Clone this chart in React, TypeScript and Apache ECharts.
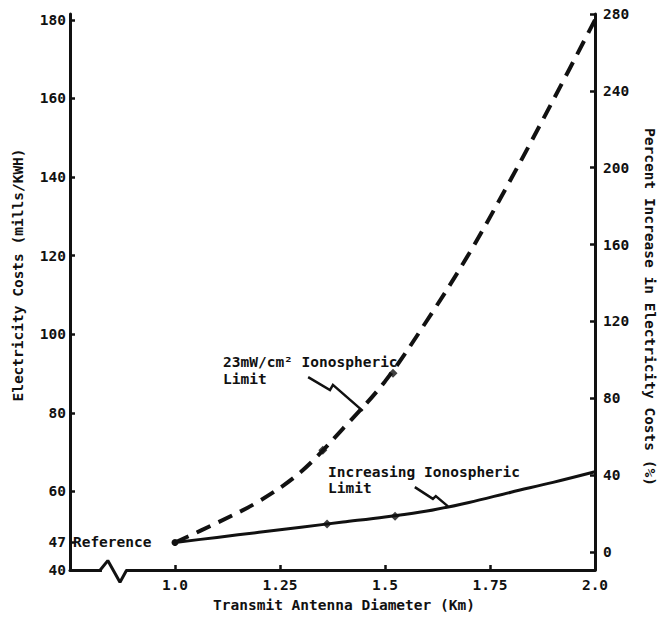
import React, { useEffect, useRef } from 'react';
import * as echarts from 'echarts';

// Transmit antenna diameter (km) sample positions
const diameters = [1.0, 1.1, 1.2, 1.3, 1.4, 1.5, 1.6, 1.7, 1.8, 1.9, 2.0];
// Electricity costs (mills/kWh), 23 mW/cm2 ionospheric limit (dashed)
const costsIonoLimit23 = [47, 52, 57.5, 65, 76, 88, 103.5, 120.5, 139.5, 159.5, 180];
// Electricity costs (mills/kWh), increasing ionospheric limit (solid)
const costsIncreasingLimit = [47, 48.3, 49.6, 50.9, 52.2, 53.5, 55.0, 57.2, 59.8, 62.3, 65];

// Plotted data markers
const dashedMarkers = [[1.352, 70.5], [1.519, 90.1]];
const solidMarkers = [[1.362, 51.7], [1.524, 53.7]];
const referencePoint = [1.0, 47];
const referenceLabel = 'Reference';

// Axis ticks
const leftTickValues = [47, 60, 80, 100, 120, 140, 160, 180];
const leftLabelValues = [40, 47, 60, 80, 100, 120, 140, 160, 180];
const rightTickValues = [0, 40, 80, 120, 160, 200, 240, 280];
const xTickValues = [1.0, 1.25, 1.5, 1.75];
const xLabelValues = [1.0, 1.25, 1.5, 1.75, 2.0];
const xTickLabels = ['1.0', '1.25', '1.5', '1.75', '2.0'];

// Axis break symbol and annotation leaders (data coordinates)
const breakGap = [[0.826, 40], [0.883, 40]];
const breakZigzag = [[0.822, 40], [0.840, 42.4], [0.869, 36.9], [0.885, 40]];
const arrow23 = [[1.317, 89.1], [1.369, 85.8], [1.376, 87.1], [1.447, 80.5]];
const arrowIncreasing = [[1.571, 61.1], [1.614, 58.1], [1.621, 58.8], [1.650, 56.2]];

// Texts
const leftAxisName = 'Electricity Costs (mills/KWH)';
const rightAxisName = 'Percent Increase in Electricity Costs (%)';
const xAxisName = 'Transmit Antenna Diameter (Km)';
const note23 = '23mW/cm² Ionospheric\nLimit';
const noteIncreasing = 'Increasing Ionospheric\nLimit';

const INK = '#111111';
const FONT = '"DejaVu Sans Mono", monospace';
const FS = 14.5;

export default function App() {
  const ref = useRef<HTMLDivElement>(null);

  useEffect(() => {
    if (!ref.current) return;
    const chart = echarts.init(ref.current, null, { renderer: 'svg' });
    const textBase = { fontFamily: FONT, fontWeight: 'bold', fontSize: FS, fill: INK };
    const labelBase = { color: INK, fontFamily: FONT, fontWeight: 'bold', fontSize: FS };
    const option: any = {
      animation: false,
      backgroundColor: '#ffffff',
      grid: { left: 70, right: 69, top: 14, bottom: 49 },
      xAxis: {
        type: 'value',
        min: 0.75,
        max: 2.0,
        axisLine: { show: true, onZero: false, lineStyle: { color: INK, width: 3 } },
        axisTick: { show: true, inside: true, length: 5, customValues: xTickValues, lineStyle: { color: INK, width: 2.5 } },
        axisLabel: {
          show: true,
          customValues: xLabelValues,
          margin: 7,
          ...labelBase,
          formatter: (v: number) => {
            const i = xLabelValues.indexOf(v);
            return i >= 0 ? xTickLabels[i] : '';
          },
        },
        splitLine: { show: false },
      },
      yAxis: [
        {
          type: 'value',
          position: 'left',
          min: 40,
          max: 181.5,
          axisLine: { show: true, onZero: false, lineStyle: { color: INK, width: 3 } },
          axisTick: { show: true, inside: true, length: 5, customValues: leftTickValues, lineStyle: { color: INK, width: 2.5 } },
          axisLabel: { show: true, customValues: leftLabelValues, margin: 4, ...labelBase },
          splitLine: { show: false },
        },
        {
          type: 'value',
          position: 'right',
          min: -9.37,
          max: 280,
          axisLine: { show: true, onZero: false, lineStyle: { color: INK, width: 3 } },
          axisTick: { show: true, inside: true, length: 5, customValues: rightTickValues, lineStyle: { color: INK, width: 2.5 } },
          axisLabel: { show: true, customValues: rightTickValues, margin: 8, ...labelBase },
          splitLine: { show: false },
        },
      ],
      series: [
        {
          type: 'line',
          data: breakGap,
          showSymbol: false,
          clip: false,
          z: 3,
          lineStyle: { color: '#ffffff', width: 5 },
        },
        {
          type: 'line',
          data: breakZigzag,
          showSymbol: false,
          clip: false,
          z: 4,
          lineStyle: { color: INK, width: 3 },
        },
        {
          type: 'line',
          name: '23mW/cm2 Ionospheric Limit',
          data: diameters.map((d, i) => [d, costsIonoLimit23[i]]),
          smooth: 0.35,
          showSymbol: false,
          clip: false,
          lineStyle: { color: INK, width: 4, type: [15, 9] },
        },
        {
          type: 'line',
          name: 'Increasing Ionospheric Limit',
          data: diameters.map((d, i) => [d, costsIncreasingLimit[i]]),
          smooth: 0.35,
          showSymbol: false,
          clip: false,
          lineStyle: { color: INK, width: 3 },
        },
        {
          type: 'scatter',
          data: [...dashedMarkers, ...solidMarkers],
          symbol: 'diamond',
          symbolSize: 9,
          z: 5,
          itemStyle: { color: INK },
        },
        {
          type: 'scatter',
          z: 5,
          data: [
            {
              value: referencePoint,
              label: {
                show: true,
                position: 'left',
                distance: 20,
                formatter: referenceLabel,
                ...labelBase,
                opacity: 1,
              },
            },
          ],
          symbol: 'circle',
          symbolSize: 7,
          itemStyle: { color: INK, opacity: 1 },
        },
        {
          type: 'lines',
          coordinateSystem: 'cartesian2d',
          polyline: true,
          symbol: ['none', 'arrow'],
          symbolSize: 9,
          lineStyle: { color: INK, width: 2.5, opacity: 1, curveness: 0 },
          data: [{ coords: arrow23 }, { coords: arrowIncreasing }],
        },
      ],
      graphic: [
        {
          type: 'text',
          x: 18,
          y: 275,
          rotation: Math.PI / 2,
          style: { ...textBase, text: leftAxisName, align: 'center', verticalAlign: 'middle' },
        },
        {
          type: 'text',
          x: 650,
          y: 307,
          rotation: -Math.PI / 2,
          style: { ...textBase, text: rightAxisName, align: 'center', verticalAlign: 'middle' },
        },
        {
          type: 'text',
          x: 344,
          y: 605,
          style: { ...textBase, text: xAxisName, align: 'center', verticalAlign: 'middle' },
        },
        {
          type: 'text',
          x: 223,
          y: 353,
          style: { ...textBase, text: note23, lineHeight: 17, align: 'left', verticalAlign: 'top' },
        },
        {
          type: 'text',
          x: 328,
          y: 464,
          style: { ...textBase, text: noteIncreasing, lineHeight: 16, align: 'left', verticalAlign: 'top' },
        },
      ],
    };
    chart.setOption(option);
    return () => {
      chart.dispose();
    };
  }, []);

  return (
    <div
      ref={ref}
      style={{ position: 'fixed', left: 0, top: 0, width: 664, height: 619, background: '#fff' }}
    />
  );
}
